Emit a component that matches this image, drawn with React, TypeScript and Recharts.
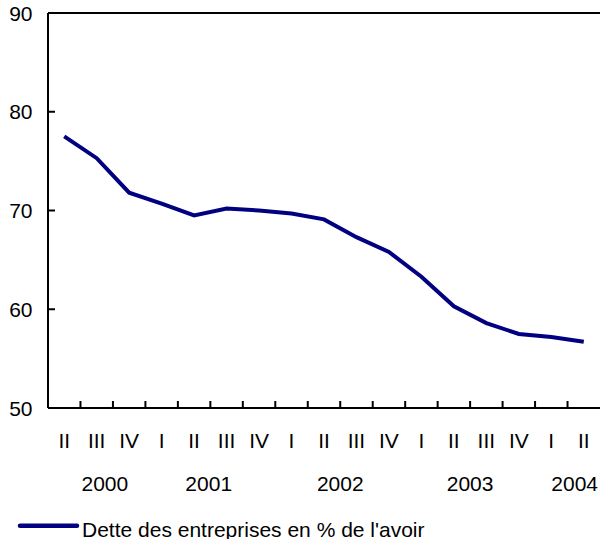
import React from 'react';
import { LineChart, Line, XAxis, YAxis, ReferenceLine, Legend } from 'recharts';

const quarters = ['II', 'III', 'IV', 'I', 'II', 'III', 'IV', 'I', 'II', 'III', 'IV', 'I', 'II', 'III', 'IV', 'I', 'II'];
const debtRatio = [77.5, 75.3, 71.8, 70.7, 69.5, 70.2, 70.0, 69.7, 69.1, 67.3, 65.8, 63.3, 60.3, 58.6, 57.5, 57.2, 56.7];
const yearLabels = ['2000', '2001', '2002', '2003', '2004'];
const yTicks = [50, 60, 70, 80, 90];
const seriesName = "Dette des entreprises en % de l'avoir";

// layout constants
const W = 600;
const H = 539;
const LEFT = 48;
const TOP = 13;
const PLOT_BOTTOM = 408;
const BAND = (W - LEFT) / quarters.length;
const YEAR_AT: { idx: number; shift: number }[] = [
  { idx: 1, shift: 0.25 },
  { idx: 4, shift: 0.45 },
  { idx: 8, shift: 0.5 },
  { idx: 12, shift: 0.5 },
  { idx: 16, shift: -0.28 },
];
const FONT = "'Liberation Sans', Arial, Helvetica, sans-serif";
const FS = 21;

const data = quarters.map((q, i) => ({ key: String(i), label: q, value: debtRatio[i] }));

const XTick = (props: any) => {
  const { x, y, payload } = props;
  const i = Number(payload.value);
  const yr = YEAR_AT.findIndex((p) => p.idx === i);
  return (
    <g>
      {i < quarters.length - 1 && (
        <line x1={x + BAND / 2} x2={x + BAND / 2} y1={y} y2={y - 7} stroke="#000" strokeWidth={2} />
      )}
      <text x={x} y={y + 40} textAnchor="middle" fontSize={FS} fontFamily={FONT} fill="#000">
        {quarters[i]}
      </text>
      {yr >= 0 && (
        <text x={x + YEAR_AT[yr].shift * BAND} y={y + 82.5} textAnchor="middle" fontSize={FS} fontFamily={FONT} fill="#000">
          {yearLabels[yr]}
        </text>
      )}
    </g>
  );
};

const YTick = (props: any) => {
  const { x, y, payload } = props;
  return (
    <g>
      <line x1={x} x2={x + 7} y1={y} y2={y} stroke="#000" strokeWidth={2} />
      <text x={x - 15.5} y={y + 7.5} textAnchor="end" fontSize={FS} fontFamily={FONT} fill="#000">
        {payload.value}
      </text>
    </g>
  );
};

const LegendContent = () => (
  <svg width={W} height={30} style={{ display: 'block' }}>
    <line x1={20} x2={77} y1={15.7} y2={15.7} stroke="#000080" strokeWidth={4.5} strokeLinecap="round" />
    <text x={82} y={26.5} fontSize={FS} fontFamily={FONT} fill="#000">
      {seriesName}
    </text>
  </svg>
);

export default function App() {
  return (
    <div style={{ position: 'absolute', left: 0, top: 0, background: '#fff' }}>
      <LineChart width={W} height={H} data={data} margin={{ top: TOP, right: 0, bottom: 0, left: 0 }}>
        <XAxis
          dataKey="key"
          interval={0}
          height={H - PLOT_BOTTOM}
          padding={{ left: BAND / 2, right: BAND / 2 }}
          tickSize={0}
          tickMargin={0}
          tickLine={false}
          tick={<XTick />}
          axisLine={{ stroke: '#000', strokeWidth: 2 }}
        />
        <YAxis
          domain={[50, 90]}
          ticks={yTicks}
          width={LEFT}
          tickSize={0}
          tickMargin={0}
          tickLine={false}
          tick={<YTick />}
          axisLine={{ stroke: '#000', strokeWidth: 2 }}
          interval={0}
        />
        <ReferenceLine y={90} stroke="#000" strokeWidth={2} ifOverflow="visible" />
        <Line
          type="linear"
          dataKey="value"
          name={seriesName}
          stroke="#000080"
          strokeWidth={4}
          dot={false}
          isAnimationActive={false}
        />
        <Legend
          layout="horizontal"
          verticalAlign="middle"
          align="center"
          content={<LegendContent />}
          wrapperStyle={{ position: 'absolute', left: 0, top: 510, width: 600, height: 30 }}
        />
      </LineChart>
    </div>
  );
}
